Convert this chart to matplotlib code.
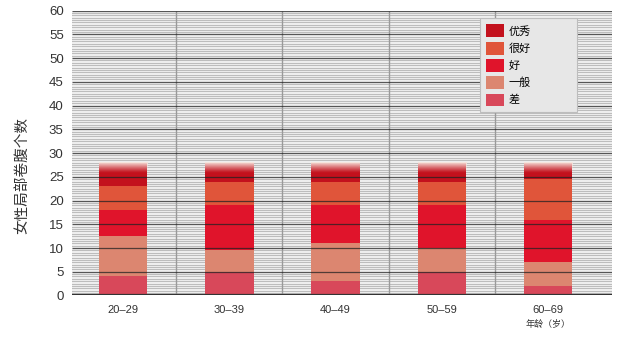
import numpy as np
import matplotlib
matplotlib.use("Agg")
import matplotlib.pyplot as plt
from matplotlib.ticker import MultipleLocator
from matplotlib.patches import Patch

plt.rcParams['font.family'] = ['Liberation Sans', 'Noto Sans CJK SC', 'DejaVu Sans']

categories = ["20–29", "30–39", "40–49", "50–59", "60–69"]
series_names = ["差", "一般", "好", "很好", "优秀"]
cha = [4, 5, 3, 5, 2]
yiban = [8.5, 4.5, 8, 5, 5]
hao = [5.5, 9.5, 8, 9, 9]
henhao = [5, 5, 5, 5, 8.5]
youxiu = [5, 4, 4, 4, 3.5]
colors = ["#d8485a", "#dc8670", "#e0142b", "#e0553a", "#c3111d"]
y_ticks = list(range(0, 61, 5))
y_label = "女性局部卷腹个数"
x_note = "年龄（岁）"

series = [cha, yiban, hao, henhao, youxiu]

fig = plt.figure(figsize=(6.22, 3.42), dpi=100)
fig.patch.set_facecolor("white")
ax = fig.add_axes([0.1158, 0.136, 0.868, 0.833])
ax.set_facecolor("#f1f1f1")

x = np.arange(len(categories))
w = 0.456
xlim = (-0.48, 4.6)

# minor stripes
ax.yaxis.set_minor_locator(MultipleLocator(0.5))
ax.grid(which="minor", axis="y", color="#bdbdbd", linewidth=0.8, zorder=0)
ax.set_axisbelow(True)

# vertical separators
ax.vlines(x[:-1] + 0.5, 0, 60, color="#9a9a9a", linewidth=1.0, zorder=1)

bottom = np.zeros(len(categories))
for vals, c, name in zip(series, colors, series_names):
    ax.bar(x, vals, w, bottom=bottom, color=c, edgecolor="none", zorder=2, label=name)
    bottom = bottom + np.array(vals)

# fading top of bars
grad = np.zeros((50, 2, 4))
grad[..., 0] = 0.97
grad[..., 1] = 0.90
grad[..., 2] = 0.87
grad[..., 3] = np.linspace(1, 0, 50)[:, None] ** 1.2
for xi, top in zip(x, bottom):
    ax.imshow(grad, extent=(xi - w / 2, xi + w / 2, top - 2.2, top),
              aspect="auto", zorder=2.5, interpolation="bilinear")

# major lines on top
ax.hlines(y_ticks[1:], xlim[0], xlim[1], color="#222222", linewidth=0.9, alpha=0.75, zorder=3)
ax.hlines([0], xlim[0], xlim[1], color="#333333", linewidth=1.6, zorder=3)

ax.set_xlim(*xlim)
ax.set_ylim(0, 60)
for s in ax.spines.values():
    s.set_visible(False)

ax.set_yticks(y_ticks)
ax.set_yticklabels([str(t) for t in y_ticks], fontsize=9.5, color="#333333")
ax.set_xticks(x)
ax.set_xticklabels(categories, fontsize=8, color="#333333")
ax.tick_params(axis="both", which="both", length=0)
ax.tick_params(axis="y", pad=6)
ax.tick_params(axis="x", pad=7)

ax.annotate(x_note, xy=(x[-1], 0), xycoords=("data", "axes fraction"),
            xytext=(0, -21), textcoords="offset points", ha="center", va="center",
            fontsize=6.5, color="#333333")

fig.text(22 / 622, 1 - 176 / 342, y_label, rotation=90, ha="center", va="center",
         fontsize=10.5, color="#333333")

handles = [Patch(facecolor=c, edgecolor="none") for c in colors][::-1]
labels = series_names[::-1]
leg = ax.legend(handles, labels, loc="upper left",
                bbox_to_anchor=(0.7556, 0.649, 0.1796, 0.324), mode="expand",
                borderaxespad=0, fontsize=8, handlelength=1.6, handleheight=1.4,
                handletextpad=0.45, labelspacing=0.4, borderpad=0.55,
                fancybox=False, framealpha=1)
leg.get_frame().set_facecolor("#e7e7e7")
leg.get_frame().set_edgecolor("#bdbdbd")
leg.get_frame().set_linewidth(0.8)
leg.set_zorder(5)

fig.savefig("out.png", dpi=100)
